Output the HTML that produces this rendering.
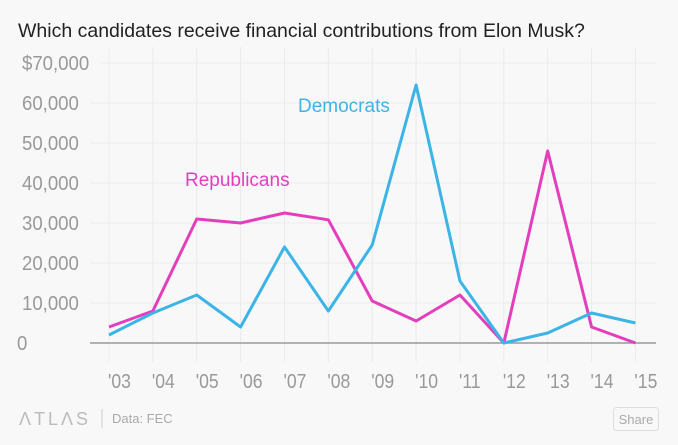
<!DOCTYPE html>
<html><head><meta charset="utf-8"><style>
body{margin:0;background:#f8f8f8;font-family:"Liberation Sans",sans-serif;}
svg{display:block}
</style></head><body>
<svg width="678" height="445">
<text x="18" y="37" font-size="19.5" fill="#222">Which candidates receive financial contributions from Elon Musk?</text>
<g id="grid"></g>
<g id="ylab"></g>
<g id="xlab"></g>
<g id="lines"></g>
<text x="298" y="112" font-size="19" fill="#3cb4e6">Democrats</text>
<text x="185" y="186" font-size="19" fill="#e33fbd">Republicans</text>
<text x="19" y="425" font-size="18" fill="#bbb" letter-spacing="3">ΛTLΛS</text>
<line x1="102" y1="409" x2="102" y2="428" stroke="#ccc"/>
<text x="112" y="423" font-size="13" fill="#aaa">Data: FEC</text>
<rect x="613.5" y="407.5" width="45" height="23" rx="3" fill="none" stroke="#ddd"/>
<text x="636" y="424" font-size="13" fill="#aaa" text-anchor="middle">Share</text>
</svg>
<script>
const years=["'03","'04","'05","'06","'07","'08","'09","'10","'11","'12","'13","'14","'15"];
const democrats=[2000,7500,12000,4000,24000,8000,24500,64500,15500,0,2500,7500,5000];
const republicans=[4000,8000,31000,30000,32500,30800,10500,5500,12000,0,48000,4000,0];
const yTicks=[0,10000,20000,30000,40000,50000,60000,70000];
const yTickLabels=["0","10,000","20,000","30,000","40,000","50,000","60,000","$70,000"];
const NS="http://www.w3.org/2000/svg";
const x=i=>109+i*43.87;
const y=v=>343-v*280/70000;
function mk(t,a,p){const e=document.createElementNS(NS,t);for(const k in a)e.setAttribute(k,a[k]);p.appendChild(e);return e;}
const grid=document.getElementById('grid'),yl=document.getElementById('ylab'),xl=document.getElementById('xlab'),ln=document.getElementById('lines');
years.forEach((yr,i)=>{
 const g=mk('line',{x1:x(i),x2:x(i),y1:47,y2:362,stroke:'#ebebeb'},grid);
 
 
 const t=mk('text',{x:x(i)-1,y:388,'font-size':20,fill:'#999',transform:`translate(${x(i)-1} 0) scale(0.88 1) translate(${-(x(i)-1)} 0)`},xl);
 t.textContent=yr;
 
 
});
yTicks.forEach((v,i)=>{
 const g=mk('line',{x1:i==7?100:90,x2:656,y1:y(v),y2:y(v),stroke:v==0?'#999':'#ebebeb','stroke-width':v==0?1.5:1},grid);
 
 
 const lx=v==0?17:22;
 const t=mk('text',{x:lx,y:y(v)+7,'font-size':20,fill:'#999',transform:`translate(${lx} 0) scale(0.93 1) translate(${-lx} 0)`},yl);
 t.textContent=yTickLabels[i];
 
 
});
function line(d,c,n){
 const p=mk('polyline',{points:d.map((v,i)=>x(i)+','+y(v)).join(' '),fill:'none',stroke:c,'stroke-width':3,'stroke-linejoin':'round'},ln);
 
 
}
line(republicans,'#e33fbd','republicans-line');
line(democrats,'#3cb4e6','democrats-line');
</script>
</body></html>
